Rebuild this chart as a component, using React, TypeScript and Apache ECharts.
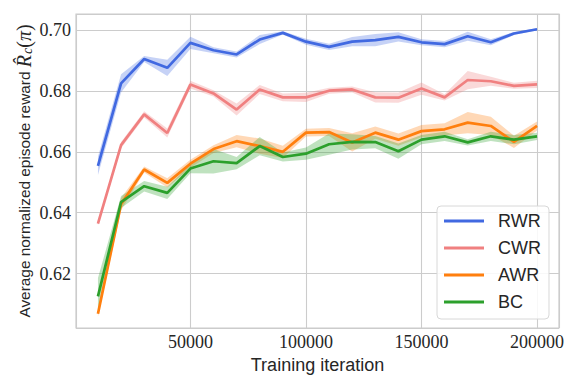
import React, { useEffect, useRef } from "react";
import * as echarts from "echarts";

const iterations = [10000, 20000, 30000, 40000, 50000, 60000, 70000, 80000, 90000, 100000, 110000, 120000, 130000, 140000, 150000, 160000, 170000, 180000, 190000, 200000];

const rwrMean = [0.6554, 0.6825, 0.6905, 0.6876, 0.6958, 0.6934, 0.6920, 0.6969, 0.6991, 0.6962, 0.6945, 0.6962, 0.6967, 0.6978, 0.6960, 0.6954, 0.6980, 0.6960, 0.6989, 0.7003];
const rwrErr = [0.003, 0.003, 0.001, 0.0027, 0.002, 0.001, 0.001, 0.0015, 0.0005, 0.001, 0.001, 0.0015, 0.002, 0.0015, 0.001, 0.001, 0.0015, 0.001, 0.0005, 0.0003];

const cwrMean = [0.6364, 0.6622, 0.6723, 0.6662, 0.6821, 0.6792, 0.6739, 0.6805, 0.6779, 0.6779, 0.6801, 0.6805, 0.6779, 0.6778, 0.6808, 0.6779, 0.6836, 0.6832, 0.6817, 0.6822];
const cwrErr = [0.0005, 0.001, 0.001, 0.0015, 0.0013, 0.001, 0.002, 0.0015, 0.0013, 0.0015, 0.001, 0.001, 0.0017, 0.0017, 0.002, 0.001, 0.003, 0.0015, 0.001, 0.0012];

const awrMean = [0.6068, 0.6428, 0.6542, 0.6498, 0.6561, 0.6609, 0.6635, 0.6619, 0.6600, 0.6663, 0.6665, 0.6631, 0.6663, 0.6640, 0.6668, 0.6674, 0.6696, 0.6685, 0.6633, 0.6685];
const awrErr = [0.001, 0.002, 0.001, 0.0015, 0.0013, 0.0013, 0.002, 0.0025, 0.002, 0.0013, 0.0013, 0.003, 0.002, 0.002, 0.002, 0.002, 0.0035, 0.003, 0.002, 0.0015];

const bcMean = [0.6125, 0.6435, 0.6487, 0.6465, 0.6545, 0.6569, 0.6563, 0.6619, 0.6583, 0.6594, 0.6625, 0.6633, 0.6632, 0.6602, 0.6640, 0.6651, 0.6631, 0.6651, 0.6640, 0.6651];
const bcErr = [0.006, 0.002, 0.0017, 0.002, 0.0015, 0.004, 0.002, 0.003, 0.0015, 0.002, 0.0035, 0.0025, 0.002, 0.0025, 0.0015, 0.0015, 0.001, 0.0015, 0.0015, 0.0012];

const methodNames = ["RWR", "CWR", "AWR", "BC"];
const methodColors = ["#4169e1", "#f08080", "#ff7f0e", "#2ca02c"];

export default function App() {
  const ref = useRef<HTMLDivElement>(null);
  useEffect(() => {
    if (!ref.current) return;
    const chart = echarts.init(ref.current, null, { renderer: "svg" });
    const groups = [
      { name: methodNames[0], color: methodColors[0], mean: rwrMean, err: rwrErr },
      { name: methodNames[1], color: methodColors[1], mean: cwrMean, err: cwrErr },
      { name: methodNames[2], color: methodColors[2], mean: awrMean, err: awrErr },
      { name: methodNames[3], color: methodColors[3], mean: bcMean, err: bcErr },
    ];
    const series: any[] = [];
    groups.forEach((g) => {
      const bandData = iterations.map((x, i) => [x, g.mean[i] - g.err[i], g.mean[i] + g.err[i]]);
      series.push({
        type: "custom",
        name: g.name + "-band",
        data: bandData,
        encode: { x: 0, y: [1, 2] },
        silent: true,
        z: 1,
        renderItem: (params: any, api: any) => {
          if (params.dataIndex !== 0) return null;
          const upper = bandData.map((d) => api.coord([d[0], d[2]]));
          const lower = bandData.map((d) => api.coord([d[0], d[1]])).reverse();
          return {
            type: "polygon",
            shape: { points: upper.concat(lower) },
            style: { fill: g.color, opacity: 0.3 },
          };
        },
      });
    });
    groups.forEach((g) => {
      series.push({
        type: "line",
        name: g.name,
        data: iterations.map((x, i) => [x, g.mean[i]]),
        symbol: "none",
        color: g.color,
        lineStyle: { color: g.color, width: 2.7 },
        z: 3,
      });
    });

    chart.setOption({
      animation: false,
      backgroundColor: "#ffffff",
      grid: {
        left: 76,
        top: 14,
        width: 483,
        height: 314,
        show: true,
        borderColor: "#cccccc",
        borderWidth: 1.2,
        backgroundColor: "transparent",
      },
      legend: {
        data: methodNames,
        orient: "vertical",
        left: 437,
        top: 206,
        icon: "rect",
        itemWidth: 40,
        itemHeight: 3,
        itemGap: 9,
        padding: [6, 8, 8, 7],
        backgroundColor: "rgba(255,255,255,0.85)",
        borderColor: "#d8d8d8",
        borderWidth: 1,
        borderRadius: 4,
        textStyle: {
          fontFamily: "Liberation Sans",
          fontSize: 18,
          lineHeight: 18,
          color: "#262626",
          padding: [0, 0, 0, 9],
        },
      },
      xAxis: {
        type: "value",
        min: 500,
        max: 209500,
        splitNumber: 4,
        name: "Training iteration",
        nameLocation: "middle",
        nameGap: 23,
        nameTextStyle: { fontFamily: "Liberation Sans", fontSize: 18, color: "#262626" },
        axisLine: { show: false },
        axisTick: { show: false },
        axisLabel: {
          showMinLabel: false,
          showMaxLabel: false,
          fontFamily: "Liberation Serif",
          fontSize: 18,
          color: "#262626",
          margin: 5,
          formatter: (v: number) => String(Math.round(v)),
        },
        splitLine: { show: true, lineStyle: { color: "#cccccc", width: 1.1 } },
      },
      yAxis: {
        type: "value",
        min: 0.6021,
        max: 0.7053,
        splitNumber: 5,
        name: "Average normalized episode reward {r|R\u0302}{s|c}{p|(}{r|π}{p|)}",
        nameLocation: "middle",
        nameRotate: 90,
        nameGap: 42,
        nameMoveOverlap: false,
        nameTextStyle: {
          fontFamily: "Liberation Sans",
          fontSize: 15.4,
          color: "#262626",
          rich: {
            r: { fontFamily: "Liberation Serif", fontStyle: "italic", fontSize: 20, color: "#262626" },
            s: { fontFamily: "Liberation Serif", fontStyle: "italic", fontSize: 14, color: "#262626", padding: [6, 0, 0, 1] },
            p: { fontFamily: "Liberation Serif", fontSize: 20, color: "#262626" },
          },
        },
        axisLine: { show: false },
        axisTick: { show: false },
        axisLabel: {
          showMinLabel: false,
          showMaxLabel: false,
          fontFamily: "Liberation Serif",
          fontSize: 18,
          color: "#262626",
          margin: 5,
          formatter: (v: number) => v.toFixed(2),
        },
        splitLine: { show: true, lineStyle: { color: "#cccccc", width: 1.1 } },
      },
      series,
    });
    return () => chart.dispose();
  }, []);
  return (
    <div
      ref={ref}
      style={{ position: "fixed", left: 0, top: 0, width: 581, height: 388 }}
    />
  );
}
